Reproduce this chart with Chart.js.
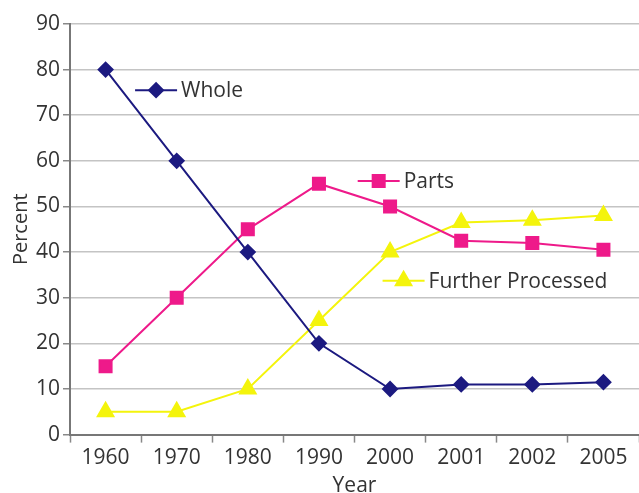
<!DOCTYPE html>
<html>
<head>
<meta charset="utf-8">
<script src="https://cdn.jsdelivr.net/npm/chart.js@4/dist/chart.umd.min.js"></script>
<style>
  html, body { margin: 0; padding: 0; background: #fff; }
  #wrap { width: 639px; height: 493px; }
</style>
</head>
<body>
<div id="wrap"><canvas id="grafico" width="639" height="493"></canvas></div>
<script>
const years = ['1960', '1970', '1980', '1990', '2000', '2001', '2002', '2005'];
const whole = [80, 60, 40, 20, 10, 11, 11, 11.5];
const parts = [15, 30, 45, 55, 50, 42.5, 42, 40.5];
const furtherProcessed = [5, 5, 10, 25, 40, 46.5, 47, 48];
const yTicks = [0, 10, 20, 30, 40, 50, 60, 70, 80, 90];

// label anchors in data space: [category index, value]
const labelSpots = [
    [0.71, 75.5],
    [3.84, 55.6],
    [4.19, 33.7]
];

const fuente = '"Open Sans", "DejaVu Sans", sans-serif';
const gris = '#333';
const tam = 21;

// inline legend labels next to the lines
const etiquetasPlugin = {
    id: 'etiquetas',
    afterDatasetsDraw(chart) {
        const ctx = chart.ctx;
        const xs = chart.scales.x, ys = chart.scales.y;
        chart.data.datasets.forEach((ds, i) => {
            const cx = xs.getPixelForValue(labelSpots[i][0]);
            const cy = ys.getPixelForValue(labelSpots[i][1]);
            ctx.save();
            ctx.strokeStyle = ds.borderColor;
            ctx.lineWidth = 2;
            ctx.beginPath();
            ctx.moveTo(cx - 21, cy);
            ctx.lineTo(cx + 21, cy);
            ctx.stroke();
            ctx.fillStyle = ds.pointBackgroundColor;
            Chart.helpers.drawPoint(ctx, {
                pointStyle: ds.pointStyle,
                radius: ds.pointRadius,
                borderWidth: 1
            }, cx, cy);
            ctx.fillStyle = gris;
            ctx.font = tam + 'px ' + fuente;
            ctx.textBaseline = 'middle';
            ctx.textAlign = 'left';
            ctx.fillText(ds.label, cx + 25, cy + 1);
            ctx.restore();
        });
    }
};

const ctx = document.getElementById('grafico').getContext('2d');
new Chart(ctx, {
    type: 'line',
    data: {
        labels: years,
        datasets: [{
            label: 'Whole',
            data: whole,
            borderColor: '#1c1a80',
            backgroundColor: '#1c1a80',
            pointBackgroundColor: '#1c1a80',
            pointBorderColor: '#1c1a80',
            pointStyle: 'rectRot',
            pointRadius: 7,
            borderWidth: 2
        }, {
            label: 'Parts',
            data: parts,
            borderColor: '#ee1a8a',
            backgroundColor: '#ee1a8a',
            pointBackgroundColor: '#ee1a8a',
            pointBorderColor: '#ee1a8a',
            pointStyle: 'rect',
            pointRadius: 8.5,
            borderWidth: 2
        }, {
            label: 'Further Processed',
            data: furtherProcessed,
            borderColor: '#f4f40c',
            backgroundColor: '#f4f40c',
            pointBackgroundColor: '#f4f40c',
            pointBorderColor: '#f4f40c',
            pointStyle: 'triangle',
            pointRadius: 9,
            borderWidth: 2
        }]
    },
    options: {
        responsive: false,
        animation: false,
        layout: { autoPadding: false, padding: { top: 24, right: 0, left: 9, bottom: -6 } },
        plugins: {
            legend: { display: false },
            tooltip: { enabled: false }
        },
        scales: {
            x: {
                offset: true,
                afterFit(scale) {
                    // dejar que el área llegue hasta el borde derecho
                    scale.paddingRight = 0;
                    scale.paddingLeft = 0;
                },
                grid: {
                    offset: true,
                    drawOnChartArea: false,
                    drawTicks: true,
                    tickLength: 8,
                    tickColor: '#888',
                    tickWidth: 1.5
                },
                border: { color: '#777', width: 2 },
                ticks: { color: gris, font: { family: fuente, size: tam }, padding: 3 },
                title: { display: true, text: 'Year', color: gris, font: { family: fuente, size: tam }, padding: { top: 0, bottom: 0 } }
            },
            y: {
                min: 0,
                max: 90,
                afterBuildTicks(scale) {
                    scale.ticks = yTicks.map(v => ({ value: v }));
                },
                grid: {
                    color: '#c4c4c4',
                    lineWidth: 1.5,
                    tickLength: 7,
                    tickColor: '#888'
                },
                border: { color: '#777', width: 2 },
                ticks: { color: gris, font: { family: fuente, size: tam }, padding: 3 },
                title: { display: true, text: 'Percent', color: gris, font: { family: fuente, size: tam - 1 }, padding: { top: 0, bottom: 0 } }
            }
        }
    },
    plugins: [etiquetasPlugin]
});
</script>
</body>
</html>
